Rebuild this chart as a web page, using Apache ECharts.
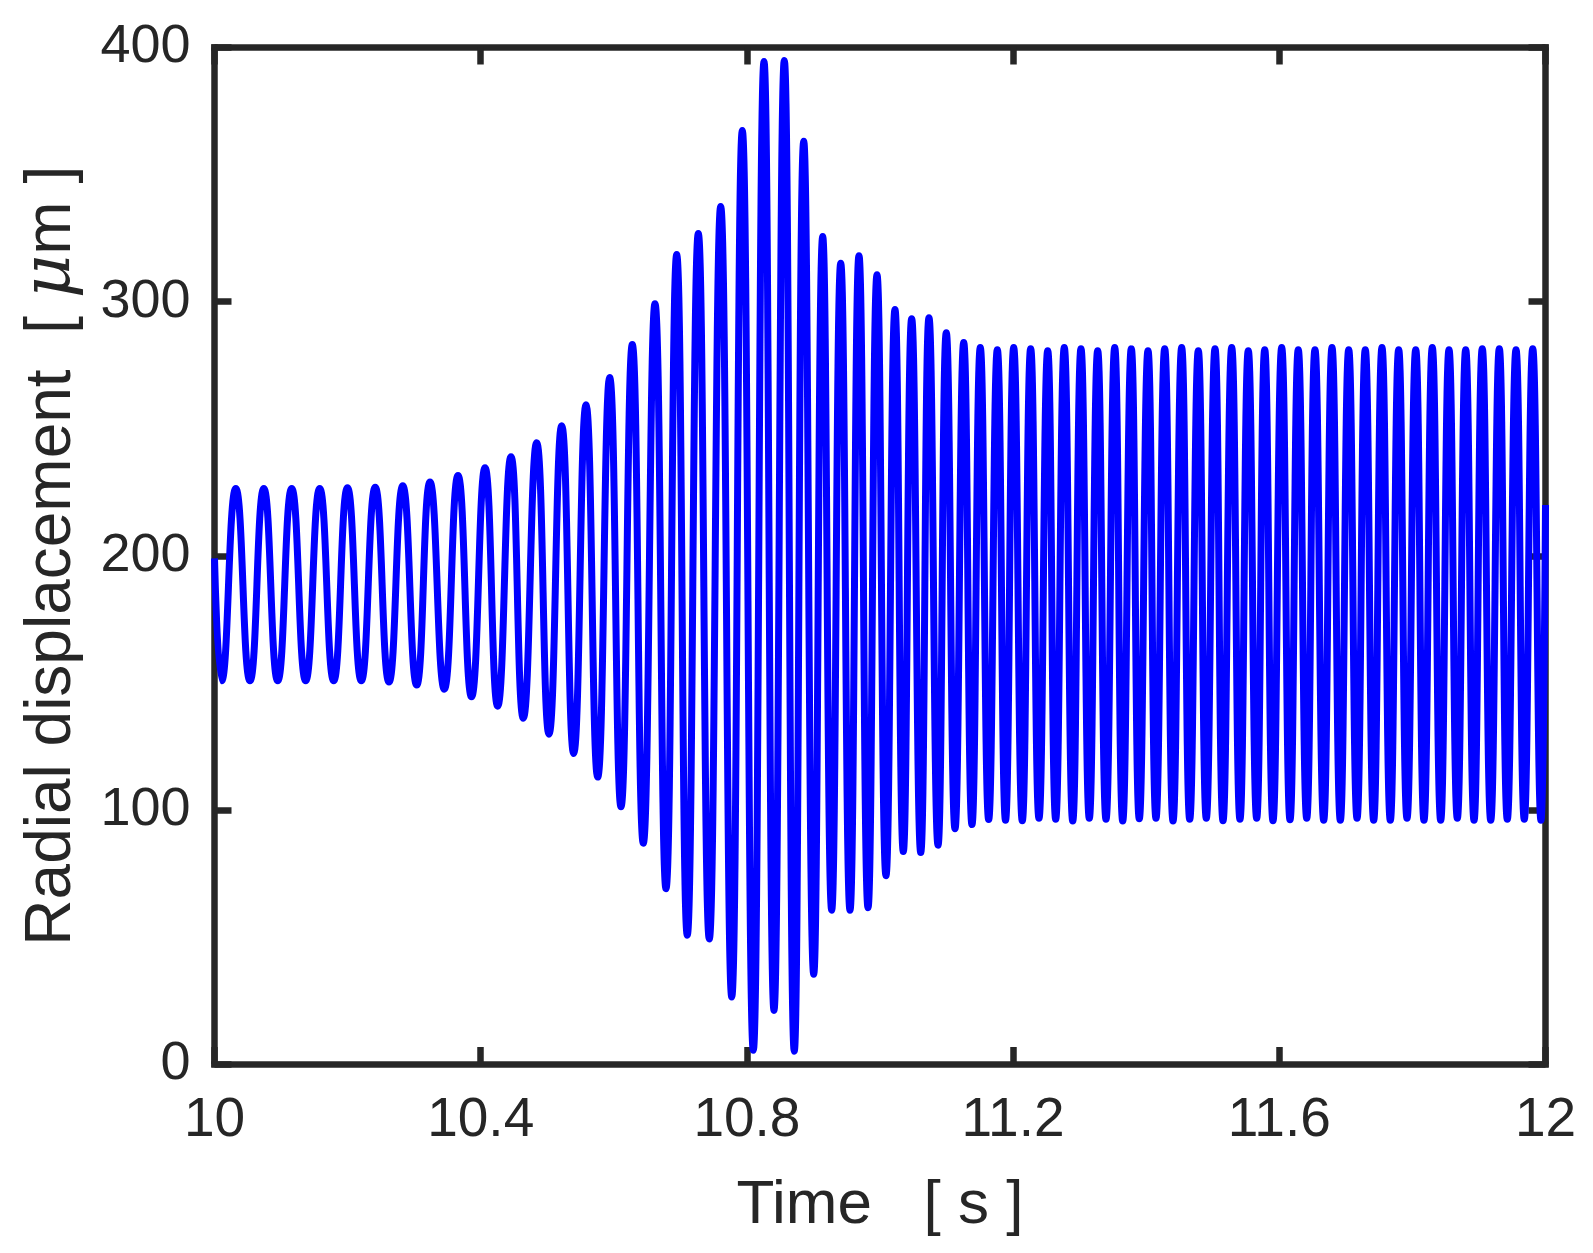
<!DOCTYPE html>
<html>
<head>
<meta charset="utf-8">
<script src="https://cdn.jsdelivr.net/npm/echarts@6/dist/echarts.min.js"></script>
<style>
html,body{margin:0;padding:0;background:#fff;}
#chart{width:1593px;height:1253px;}
</style>
</head>
<body>
<div id="chart"></div>
<script>
// Time samples (s) at the extrema, plus end points
const time = [
10.0000,10.0108,10.0320,10.0533,10.0741,10.0950,10.1160,10.1370,10.1581,10.1791,
10.1998,10.2206,10.2415,10.2622,10.2829,10.3038,10.3238,10.3453,10.3659,10.3862,
10.4065,10.4255,10.4455,10.4640,10.4841,10.5026,10.5217,10.5397,10.5582,10.5758,
10.5938,10.6108,10.6278,10.6443,10.6619,10.6784,10.6945,10.7104,10.7270,10.7435,
10.7606,10.7772,10.7931,10.8096,10.8257,10.8407,10.8562,10.8712,10.8854,10.9004,
10.9139,10.9274,10.9410,10.9549,10.9684,10.9820,10.9955,11.0090,11.0225,11.0350,
11.0476,11.0612,11.0736,11.0872,11.0996,11.1127,11.1258,11.1382,11.1507,11.1633,
11.1763,11.1886,11.2009,11.2138,11.2264,11.2389,11.2520,11.2640,11.2769,11.2896,
11.3020,11.3145,11.3271,11.3396,11.3527,11.3647,11.3776,11.3896,11.4027,11.4147,
11.4278,11.4403,11.4533,11.4654,11.4783,11.4903,11.5034,11.5154,11.5285,11.5409,
11.5534,11.5660,11.5781,11.5905,11.6036,11.6161,11.6285,11.6412,11.6536,11.6667,
11.6792,11.6917,11.7043,11.7168,11.7292,11.7418,11.7543,11.7668,11.7794,11.7919,
11.8050,11.8174,11.8299,11.8425,11.8550,11.8675,11.8801,11.8926,11.9050,11.9177,
11.9306,11.9426,11.9557,11.9681,11.9808,11.9932,12.0000
];
// Radial displacement (µm) at those instants
const displacement = [
199.0,150.8,226.5,150.8,226.5,150.8,226.5,150.8,226.5,150.8,
226.8,150.8,227.0,150.3,227.5,149.1,229.0,147.5,231.6,144.5,
234.6,140.8,239.0,136.1,244.5,129.8,251.2,122.2,259.4,112.9,
270.1,101.2,283.1,86.9,299.2,69.0,318.5,50.7,326.8,49.2,
337.4,26.4,367.3,5.4,394.5,21.1,394.9,5.0,363.1,35.3,
325.6,60.5,315.1,60.5,318.1,61.5,310.6,74.1,296.9,83.6,
293.3,83.2,293.7,86.1,287.8,92.6,283.9,94.2,281.9,96.2,
281.1,95.9,281.9,95.7,281.5,96.7,280.7,96.3,281.9,95.6,
281.5,96.7,280.7,96.3,281.9,95.6,281.5,96.5,280.7,96.7,
281.5,95.6,281.9,96.3,280.7,96.7,281.5,95.7,281.9,96.3,
280.7,96.7,281.1,95.7,281.9,96.1,281.1,96.7,281.1,95.9,
281.9,95.9,281.1,96.7,281.1,95.9,281.9,95.9,281.1,96.7,
281.1,95.9,281.9,95.9,281.1,96.7,281.1,95.9,281.5,95.9,
281.5,96.3,281.1,96.3,281.5,95.9,220.0
];
const xTicks = ['10','10.4','10.8','11.2','11.6','12'];
const yTicks = ['0','100','200','300','400'];

const FONT = '"Liberation Sans", Arial, Helvetica, sans-serif';
const AX = '#262626';
const frameLine = {show:true, onZero:false, lineStyle:{color:AX, width:6.5, cap:'square'}};
const tickIn = {show:true, inside:true, length:17, lineStyle:{color:AX, width:6.5}};

const chart = echarts.init(document.getElementById('chart'), null, {renderer:'canvas'});
chart.setOption({
  backgroundColor:'#ffffff',
  animation:false,
  grid:{left:214.5, top:47.5, width:1331, height:1016.5, containLabel:false},
  xAxis:[{
    type:'value', min:10, max:12, interval:0.4, position:'bottom',
    axisLine:frameLine, axisTick:tickIn, splitLine:{show:false},
    axisLabel:{color:AX, fontSize:55, fontFamily:FONT, margin:29,
      formatter:(v)=>xTicks[Math.round((v-10)/0.4)]},
    name:'Time   [ s ]', nameLocation:'middle', nameGap:111,
    nameTextStyle:{color:AX, fontSize:62, fontFamily:FONT}
  },{
    type:'value', min:10, max:12, interval:0.4, position:'top',
    axisLine:frameLine, axisTick:tickIn, axisLabel:{show:false}, splitLine:{show:false}
  }],
  yAxis:[{
    type:'value', min:0, max:400, interval:100, position:'left',
    axisLine:frameLine, axisTick:tickIn, splitLine:{show:false},
    axisLabel:{color:AX, fontSize:54, fontFamily:FONT, margin:24,
      formatter:(v)=>yTicks[Math.round(v/100)]},
    name:'Radial displacement  [ {it|μ}m ]', nameLocation:'middle', nameGap:129, nameRotate:90,
    nameTextStyle:{color:AX, fontSize:64, fontFamily:FONT,
      rich:{it:{fontStyle:'italic', fontSize:67, fontFamily:'"DejaVu Serif", "Liberation Serif", serif', color:AX}}}
  },{
    type:'value', min:0, max:400, interval:100, position:'right',
    axisLine:frameLine, axisTick:tickIn, axisLabel:{show:false}, splitLine:{show:false}
  }],
  series:[{
    type:'line',
    data: time.map((t,i)=>[t, displacement[i]]),
    showSymbol:false, symbol:'none',
    smooth:0.5,
    clip:false,
    lineStyle:{color:'#0000ff', width:7},
    z:5
  }]
});
</script>
</body>
</html>
